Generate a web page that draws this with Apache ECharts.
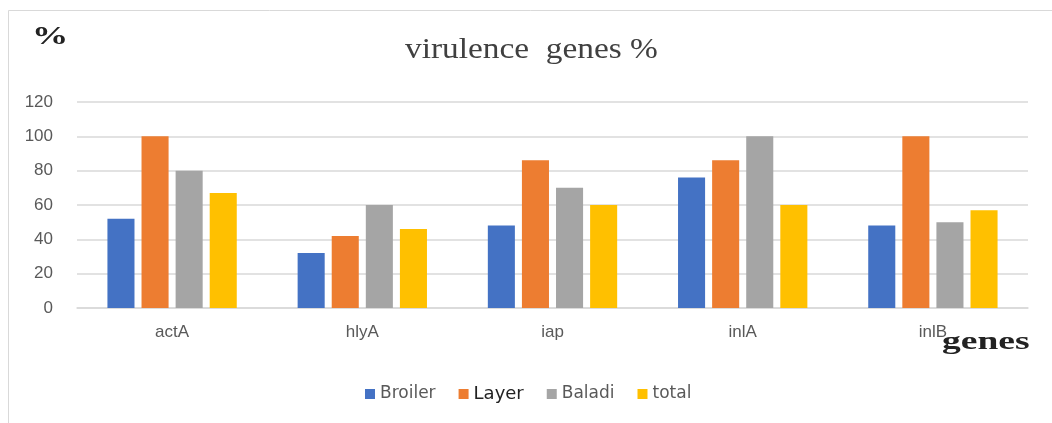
<!DOCTYPE html>
<html>
<head>
<meta charset="utf-8">
<script src="https://cdn.jsdelivr.net/npm/echarts@6/dist/echarts.min.js"></script>
<style>
    html, body { margin: 0; padding: 0; background: #fff; }
    #chart { width: 1052px; height: 423px; }
</style>
</head>
<body>
<div id="chart"></div>
<script>
    // data
    let genes = ['actA', 'hlyA', 'iap', 'inlA', 'inlB']
    let seriesNames = ['Broiler', 'Layer', 'Baladi', 'total']
    let broiler = [52, 32, 48, 76, 48]
    let layer = [100, 42, 86, 86, 100]
    let baladi = [80, 60, 70, 100, 50]
    let total = [67, 46, 60, 60, 57]
    let yTicks = [0, 20, 40, 60, 80, 100, 120]

    let values = [broiler, layer, baladi, total]
    let colors = ['#4472C4', '#ED7D31', '#A5A5A5', '#FFC000']

    let myChart = echarts.init(document.getElementById('chart'))

    let seriesData = []
    for (let i = 0; i < seriesNames.length; i++) {
        seriesData.push({
            name: seriesNames[i],
            type: 'bar',
            barGap: '26%',
            barCategoryGap: '32%',
            data: values[i]
        })
    }

    let option = {
        color: colors,
        animation: false,
        backgroundColor: '#fff',
        grid: {
            left: 77,
            right: 24,
            top: 102,
            bottom: 115,
            containLabel: false
        },
        legend: {
            left: 360,
            top: 380,
            itemWidth: 10,
            itemHeight: 10,
            itemGap: 23,
            icon: 'rect',
            textStyle: {
                color: '#595959',
                fontSize: 17,
                fontFamily: 'DejaVu Sans'
            },
            data: [
                {name: 'Broiler'},
                {name: 'Layer', textStyle: {color: '#222', fontSize: 18}},
                {name: 'Baladi'},
                {name: 'total'}
            ]
        },
        xAxis: [{
            type: 'category',
            data: genes,
            axisTick: { show: false },
            axisLine: {
                lineStyle: { color: '#d9d9d9', width: 1.5 }
            },
            axisLabel: {
                color: '#595959',
                fontSize: 17,
                fontFamily: 'Liberation Sans',
                margin: 16
            }
        }],
        yAxis: [{
            type: 'value',
            min: 0,
            max: 120,
            interval: 20,
            axisLine: { show: false },
            axisTick: { show: false },
            splitLine: {
                lineStyle: { color: '#d9d9d9', width: 1.5 }
            },
            axisLabel: {
                color: '#595959',
                fontSize: 17,
                fontFamily: 'Liberation Sans',
                margin: 24,
                formatter: function (v) {
                    return yTicks.indexOf(v) >= 0 ? String(v) : ''
                }
            }
        }],
        graphic: [
            {
                type: 'rect',
                shape: { x: 8.5, y: 10.5, width: 1060, height: 420 },
                style: { fill: 'none', stroke: '#d9d9d9', lineWidth: 1 },
                silent: true
            },
            {
                type: 'text',
                x: 405,
                y: 36,
                scaleX: 1.15,
                style: {
                    text: 'virulence  genes %',
                    fill: '#404040',
                    font: '29px "Liberation Serif"'
                }
            },
            {
                type: 'text',
                x: 32,
                y: 25,
                scaleX: 1.45,
                style: {
                    text: '%',
                    fill: '#222',
                    font: 'bold 25px "Liberation Serif"'
                }
            },
            {
                type: 'text',
                x: 942,
                y: 330,
                scaleX: 1.5,
                style: {
                    text: 'genes',
                    fill: '#222',
                    font: 'bold 25px "Liberation Serif"'
                }
            }
        ],
        series: seriesData
    }
    myChart.setOption(option)
</script>
</body>
</html>
